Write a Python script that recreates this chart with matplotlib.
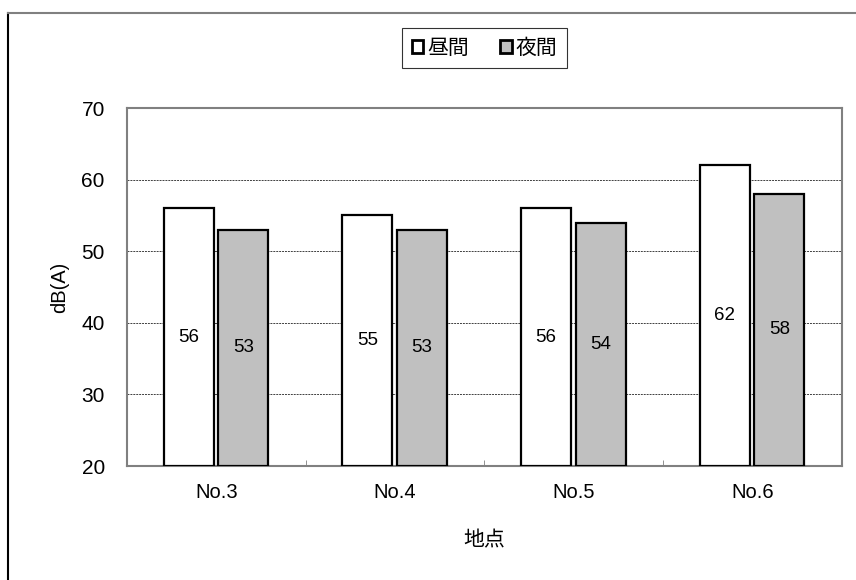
import matplotlib.pyplot as plt
from matplotlib.patches import Patch
from matplotlib.lines import Line2D
import numpy as np

plt.rcParams['font.family'] = ['Liberation Sans', 'Noto Sans CJK JP']

# データ
sites = ["No.3", "No.4", "No.5", "No.6"]
daytime = [56, 55, 56, 62]
night = [53, 53, 54, 58]
series_names = ["昼間", "夜間"]

fig = plt.figure(figsize=(8.56, 5.80), dpi=100)
ax = fig.add_axes([127 / 856, 1 - 466 / 580, (842 - 127) / 856, (466 - 108) / 580])

x = np.arange(len(sites))
w = 0.28
base = 20
ax.bar(x - 0.155, np.array(daytime) - base, w, bottom=base, color="white",
       edgecolor="black", linewidth=1.6, zorder=3)
ax.bar(x + 0.15, np.array(night) - base, w, bottom=base, color="#c0c0c0",
       edgecolor="black", linewidth=1.6, zorder=3)

for i in range(len(sites)):
    ax.text(x[i] - 0.155, (daytime[i] + base) / 2, str(daytime[i]),
            ha="center", va="center", fontsize=13.5, zorder=4)
    ax.text(x[i] + 0.15, (night[i] + base) / 2, str(night[i]),
            ha="center", va="center", fontsize=13.5, zorder=4)

ax.set_xlim(-0.5, len(sites) - 0.5)
ax.set_ylim(20, 70)
ax.set_yticks([20, 30, 40, 50, 60, 70])
ax.set_xticks(x)
ax.set_xticklabels(sites, fontsize=14.5)
ax.tick_params(axis="y", labelsize=15, length=0, pad=16)
ax.tick_params(axis="x", length=0, pad=12)
ax.set_xticks(np.arange(len(sites) + 1) - 0.5, minor=True)
ax.tick_params(axis="x", which="minor", direction="in", length=4, color="#808080")

ax.yaxis.grid(True, linestyle=(0, (2, 1)), color="#404040", linewidth=0.7, zorder=0)
for s in ax.spines.values():
    s.set_color("#808080")
    s.set_linewidth(1.5)

ax.set_ylabel("dB(A)", fontsize=14.5, labelpad=9)
ax.set_xlabel("地点", fontsize=15, labelpad=20, family=["Noto Sans CJK JP"])

handles = [Patch(facecolor="white", edgecolor="black", linewidth=2),
           Patch(facecolor="#c0c0c0", edgecolor="black", linewidth=2)]
leg = fig.legend(handles, series_names, loc="center", bbox_to_anchor=(484.5 / 856, 1 - 48 / 580),
                 ncol=2, frameon=True, fancybox=False, edgecolor="black",
                 handlelength=0.55, handleheight=0.55, handletextpad=0.2, columnspacing=1.5,
                 prop={"family": ["Noto Sans CJK JP"], "size": 15}, borderpad=0.45,
                 borderaxespad=0)
leg.get_frame().set_linewidth(0.8)

# 外枠
fig.add_artist(Line2D([8 / 856, 8 / 856], [0, 1 - 13 / 580], color="black", linewidth=1.5))
fig.add_artist(Line2D([8 / 856, 1], [1 - 13 / 580, 1 - 13 / 580], color="#808080", linewidth=1.5))

fig.savefig("out.png", dpi=100)
